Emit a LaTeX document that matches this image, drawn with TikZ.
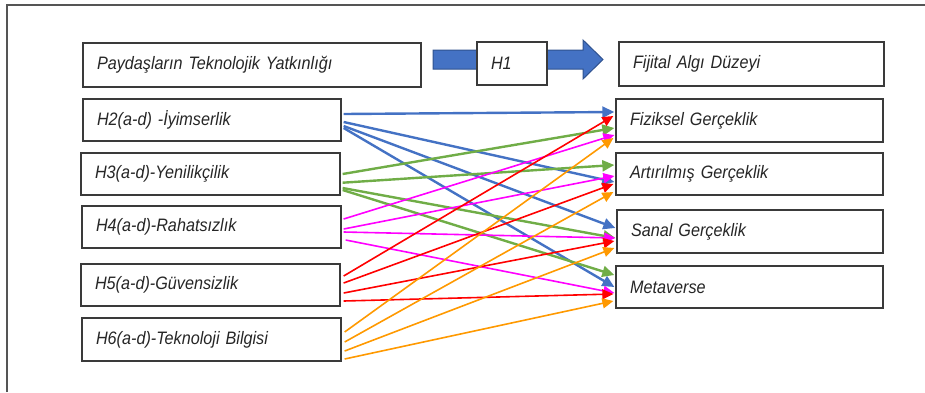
\documentclass[tikz,border=0pt]{standalone}
\usepackage{fontspec}
\setmainfont{Liberation Sans}[FakeStretch=0.9]
\usetikzlibrary{arrows.meta}
\definecolor{cblue}{HTML}{4472C4}
\definecolor{cgreen}{HTML}{70AD47}
\definecolor{cmag}{HTML}{FF00FF}
\definecolor{cred}{HTML}{FF0000}
\definecolor{corange}{HTML}{FF9900}
\definecolor{cborder}{HTML}{3A3A3A}
\definecolor{ctext}{HTML}{262626}
\definecolor{cdblue}{HTML}{2F528F}
\definecolor{cframe}{HTML}{555555}
\newcommand{\myboxfont}{\fontsize{18}{21}\selectfont\itshape\spaceskip=4pt plus 1pt minus 1pt\relax}
\begin{document}
\begin{tikzpicture}[x=1pt,y=-1pt,
  box/.style={draw=cborder, line width=1.3pt, fill=white, inner xsep=14pt, inner ysep=0pt,
    align=left, font=\myboxfont, text=ctext},
  lnA/.style={line width=2.4pt, -{Triangle[length=12pt,width=11pt]}},
  lnB/.style={line width=1.6pt, -{Triangle[length=11pt,width=10pt]}}]
\useasboundingbox (0,0) rectangle (925,392);
\draw[cframe, line width=1.3pt] (7,392) -- (7,5) -- (925,5);

% block arrow H1
\draw[fill=cblue, draw=cdblue, line width=1pt] (433,50) -- (583,50) -- (583,40) -- (603,59.5)
  -- (583,79) -- (583,69) -- (433,69) -- cycle;

\node[box, text width=310pt, minimum height=44pt] (p) at (252,65) {Paydaşların Teknolojik Yatkınlığı};
\node[box, text width=42pt, minimum height=43pt] (h1) at (512,63.5) {H1};
\node[box, text width=237pt, minimum height=44pt] (fij) at (751.5,64) {Fijital Algı Düzeyi};

\node[box, text width=230pt, minimum height=42pt] (h2) at (212,120) {H2(a-d) -İyimserlik};
\node[box, text width=231pt, minimum height=42pt] (h3) at (210.5,174) {H3(a-d)-Yenilikçilik};
\node[box, text width=231pt, minimum height=42pt] (h4) at (211.5,227) {H4(a-d)-Rahatsızlık};
\node[box, text width=231pt, minimum height=42pt] (h5) at (210.5,285) {H5(a-d)-Güvensizlik};
\node[box, text width=231pt, minimum height=43pt] (h6) at (211.5,339.5) {H6(a-d)-Teknoloji Bilgisi};

\node[box, text width=239pt, minimum height=43pt] (fiz) at (749.5,120.5) {Fiziksel Gerçeklik};
\node[box, text width=239pt, minimum height=42pt] (art) at (749.5,174) {Artırılmış Gerçeklik};
\node[box, text width=238pt, minimum height=43pt] (san) at (750,231.5) {Sanal Gerçeklik};
\node[box, text width=239pt, minimum height=42pt] (met) at (749.5,287) {Metaverse};

% H2 blue
\draw[lnA, cblue] ([xshift=2pt,yshift=6pt]h2.east) -- ([xshift=-1pt,yshift=8.5pt]fiz.west);
\draw[lnA, cblue] ([xshift=2pt,yshift=-2pt]h2.east) -- ([xshift=-1pt,yshift=-8pt]art.west);
\draw[lnA, cblue] ([xshift=2pt,yshift=-6pt]h2.east) -- ([xshift=-1pt,yshift=3.5pt]san.west);
\draw[lnA, cblue] ([xshift=2pt,yshift=-8pt]h2.east) -- ([xshift=-1pt,yshift=0pt]met.west);
% H3 green
\draw[lnA, cgreen] ([xshift=2pt,yshift=0pt]h3.east) -- ([xshift=-1pt,yshift=-7.5pt]fiz.west);
\draw[lnA, cgreen] ([xshift=2pt,yshift=-8.7pt]h3.east) -- ([xshift=-1pt,yshift=9pt]art.west);
\draw[lnA, cgreen] ([xshift=2pt,yshift=-14pt]h3.east) -- ([xshift=-1pt,yshift=-6.5pt]san.west);
\draw[lnA, cgreen] ([xshift=2pt,yshift=-16pt]h3.east) -- ([xshift=-1pt,yshift=12pt]met.west);
% H4 magenta
\draw[lnB, cmag] ([xshift=2pt,yshift=8pt]h4.east) -- ([xshift=-1pt,yshift=-14.5pt]fiz.west);
\draw[lnB, cmag] ([xshift=2pt,yshift=-2pt]h4.east) -- ([xshift=-1pt,yshift=-2pt]art.west);
\draw[lnB, cmag] ([xshift=2pt,yshift=-5pt]h4.east) -- ([xshift=-1pt,yshift=-6.5pt]san.west);
\draw[lnB, cmag] ([xshift=4pt,yshift=-13pt]h4.east) -- ([xshift=-1pt,yshift=-6pt]met.west);
% H5 red
\draw[lnB, cred] ([xshift=3pt,yshift=9pt]h5.east) -- ([xshift=-2pt,yshift=4.5pt]fiz.west);
\draw[lnB, cred] ([xshift=3pt,yshift=2pt]h5.east) -- ([xshift=-2pt,yshift=-10pt]art.west);
\draw[lnB, cred] ([xshift=3pt,yshift=-8pt]h5.east) -- ([xshift=-2pt,yshift=-9.5pt]san.west);
\draw[lnB, cred] ([xshift=3pt,yshift=-16pt]h5.east) -- ([xshift=-2pt,yshift=-7pt]met.west);
% H6 orange
\draw[lnB, corange] ([xshift=3pt,yshift=7.5pt]h6.east) -- ([xshift=-2pt,yshift=-17.5pt]fiz.west);
\draw[lnB, corange] ([xshift=3pt,yshift=-2.5pt]h6.east) -- ([xshift=-2pt,yshift=-18pt]art.west);
\draw[lnB, corange] ([xshift=3pt,yshift=-11.5pt]h6.east) -- ([xshift=-2pt,yshift=-16.5pt]san.west);
\draw[lnB, corange] ([xshift=3pt,yshift=-19.5pt]h6.east) -- ([xshift=-2pt,yshift=-14pt]met.west);
\end{tikzpicture}
\end{document}
